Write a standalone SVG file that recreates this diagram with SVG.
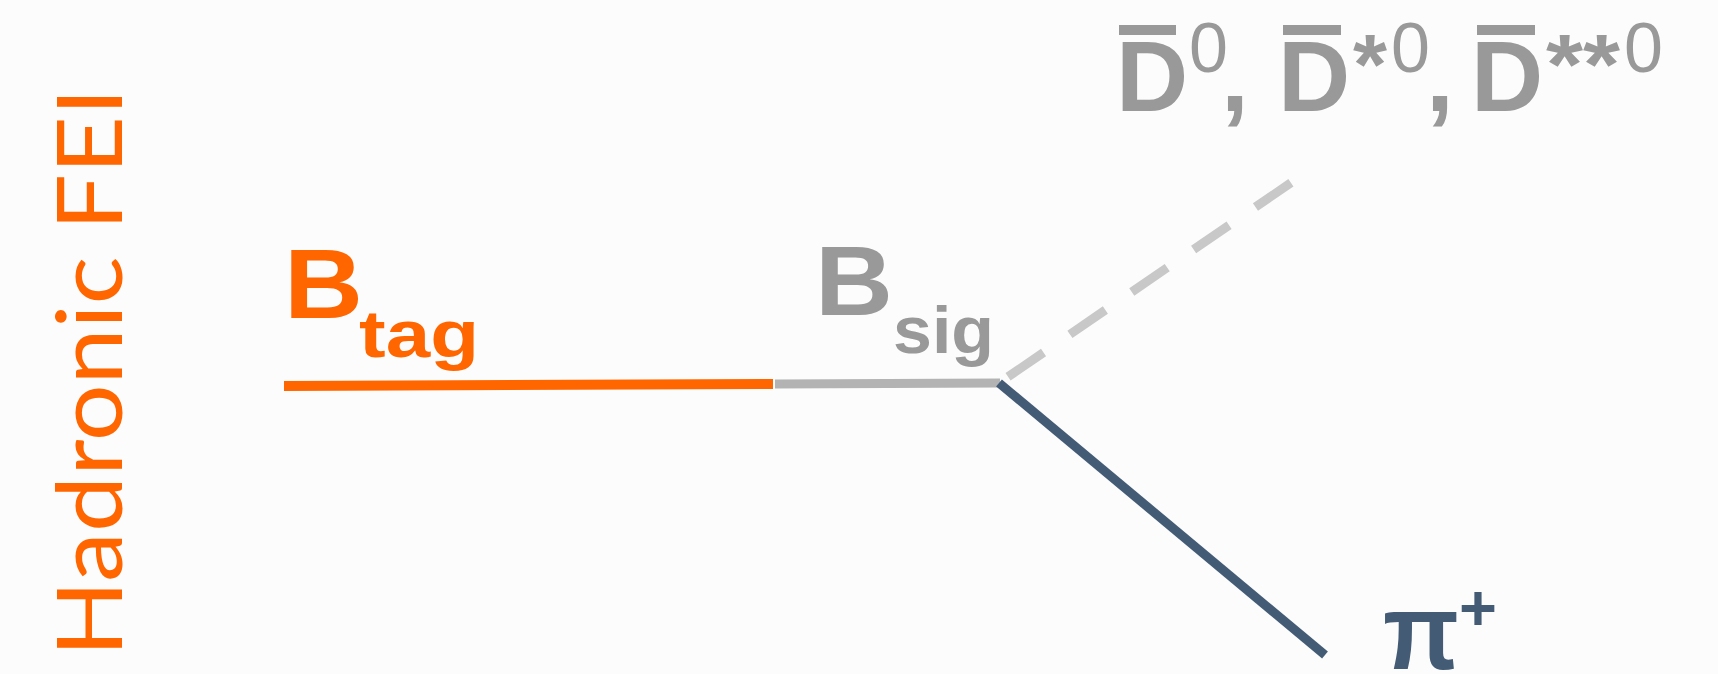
<svg xmlns="http://www.w3.org/2000/svg" width="1718" height="674" viewBox="0 0 1718 674">
  <style>
    .bold { font-family: "Liberation Sans", Arial, sans-serif; font-weight: 700; }
    .reg { font-family: "Liberation Sans", Arial, sans-serif; font-weight: 400; }
    .orange { fill: #FF6600; }
    .grey { fill: #999999; }
    .slate { fill: #435B75; }
    .side { font-family: Lato, "Liberation Sans", sans-serif; font-weight: 400; font-size: 92px; fill: #FF6600; }
  </style>
  <rect width="1718" height="674" fill="#FCFCFC"/>

  <!-- side label -->
  <g id="label-hadronic-fei">
    <text class="side" transform="translate(122 657) rotate(-90)" x="0" y="0" textLength="569" lengthAdjust="spacingAndGlyphs">Hadronic FEI</text>
  </g>

  <!-- connectors -->
  <g id="connectors" fill="none" stroke-linecap="butt">
    <line x1="284" y1="386" x2="773" y2="384" stroke="#FF6600" stroke-width="10"/>
    <line x1="775" y1="384" x2="1000" y2="383" stroke="#B3B3B3" stroke-width="9"/>
    <line x1="999" y1="383" x2="1292" y2="182" stroke="#C8C8C8" stroke-width="9" stroke-dasharray="43 32" stroke-dashoffset="64"/>
    <line x1="999" y1="383" x2="1325" y2="655" stroke="#435B75" stroke-width="9"/>
  </g>

  <!-- B tag -->
  <g id="node-btag" class="bold orange">
    <text x="284" y="318" font-size="98" textLength="79" lengthAdjust="spacingAndGlyphs">B</text>
    <text x="359" y="357" font-size="66" textLength="120" lengthAdjust="spacingAndGlyphs">tag</text>
  </g>

  <!-- B sig -->
  <g id="node-bsig" class="bold grey">
    <text x="815" y="315" font-size="98" textLength="78" lengthAdjust="spacingAndGlyphs">B</text>
    <text x="893" y="353" font-size="66" textLength="101" lengthAdjust="spacingAndGlyphs">sig</text>
  </g>

  <!-- anti-D mesons -->
  <g id="node-dbar" class="grey">
    <text class="bold" x="1116" y="111" font-size="100">D</text>
    <rect x="1119" y="25" width="57" height="10"/>
    <text class="reg" x="1189" y="72" font-size="70">0</text>
    <text class="bold" x="1221" y="111" font-size="100">,</text>

    <text class="bold" x="1278" y="111" font-size="100">D</text>
    <rect x="1283" y="25" width="58" height="10"/>
    <text class="bold" x="1353" y="94" font-size="85" textLength="34" lengthAdjust="spacingAndGlyphs">*</text>
    <text class="reg" x="1391" y="72" font-size="70">0</text>
    <text class="bold" x="1426" y="111" font-size="100">,</text>

    <text class="bold" x="1471" y="111" font-size="100">D</text>
    <rect x="1477" y="25" width="58" height="10"/>
    <text class="bold" x="1546" y="94" font-size="85" textLength="74" lengthAdjust="spacingAndGlyphs">**</text>
    <text class="reg" x="1624" y="72" font-size="70">0</text>
  </g>

  <!-- pi plus -->
  <g id="node-piplus" class="bold slate">
    <text x="1383" y="669" font-size="108" textLength="76" lengthAdjust="spacingAndGlyphs">π</text>
    <text x="1459" y="630" font-size="65">+</text>
  </g>
</svg>
